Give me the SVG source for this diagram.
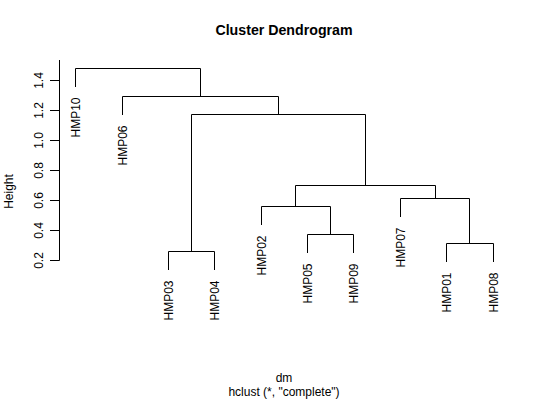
<svg xmlns="http://www.w3.org/2000/svg" width="540" height="400" viewBox="0 0 540 400">
<style>
text{font-family:"Liberation Sans",Arial,sans-serif;font-size:12px;fill:#000}
.title{font-size:14.2px;font-weight:bold}
.leaf{text-anchor:end}
.tick{text-anchor:middle}
.ln{fill:none;stroke:#000;stroke-width:1}
</style>
<rect width="540" height="400" fill="#fff"/>
<text class="title" x="284" y="35" text-anchor="middle">Cluster Dendrogram</text>
<g id="axis">
<path class="ln" d="M59.5 60V260.5M50 80.5H59.5M50 110.5H59.5M50 140.5H59.5M50 170.5H59.5M50 200.5H59.5M50 230.5H59.5M50 260.5H59.5"/>
<text class="tick" transform="translate(42.5 80.5) rotate(-90)">1.4</text>
<text class="tick" transform="translate(42.5 110.5) rotate(-90)">1.2</text>
<text class="tick" transform="translate(42.5 140.5) rotate(-90)">1.0</text>
<text class="tick" transform="translate(42.5 170.5) rotate(-90)">0.8</text>
<text class="tick" transform="translate(42.5 200.5) rotate(-90)">0.6</text>
<text class="tick" transform="translate(42.5 230.5) rotate(-90)">0.4</text>
<text class="tick" transform="translate(42.5 260.5) rotate(-90)">0.2</text>
<text text-anchor="middle" transform="translate(13 191.5) rotate(-90)">Height</text>
</g>
<g id="connectors">
<path class="ln" d="M75.5 87V68.5H200.5V96.5"/>
<path class="ln" d="M122.5 115V96.5H278.5V114.5"/>
<path class="ln" d="M191.5 251.5V114.5H365.5V185.5"/>
<path class="ln" d="M168.5 270V251.5H214.5V270"/>
<path class="ln" d="M295.5 206.5V185.5H435.5V198.5"/>
<path class="ln" d="M261.5 225V206.5H330.5V234.5"/>
<path class="ln" d="M307.5 253V234.5H353.5V253"/>
<path class="ln" d="M400.5 217V198.5H469.5V243.5"/>
<path class="ln" d="M446.5 262V243.5H493.5V262"/>
</g>
<g id="HMP10"><text class="leaf" transform="translate(80 97.5) rotate(-90)">HMP10</text></g>
<g id="HMP06"><text class="leaf" transform="translate(127 125.5) rotate(-90)">HMP06</text></g>
<g id="HMP03"><text class="leaf" transform="translate(173 280.5) rotate(-90)">HMP03</text></g>
<g id="HMP04"><text class="leaf" transform="translate(219 280.5) rotate(-90)">HMP04</text></g>
<g id="HMP02"><text class="leaf" transform="translate(266 235.5) rotate(-90)">HMP02</text></g>
<g id="HMP05"><text class="leaf" transform="translate(312 263.5) rotate(-90)">HMP05</text></g>
<g id="HMP09"><text class="leaf" transform="translate(358 263.5) rotate(-90)">HMP09</text></g>
<g id="HMP07"><text class="leaf" transform="translate(405 227.5) rotate(-90)">HMP07</text></g>
<g id="HMP01"><text class="leaf" transform="translate(451 272.5) rotate(-90)">HMP01</text></g>
<g id="HMP08"><text class="leaf" transform="translate(498 272.5) rotate(-90)">HMP08</text></g>
<text x="284" y="381.5" text-anchor="middle">dm</text>
<text x="284" y="395.5" text-anchor="middle">hclust (*, "complete")</text>
</svg>
